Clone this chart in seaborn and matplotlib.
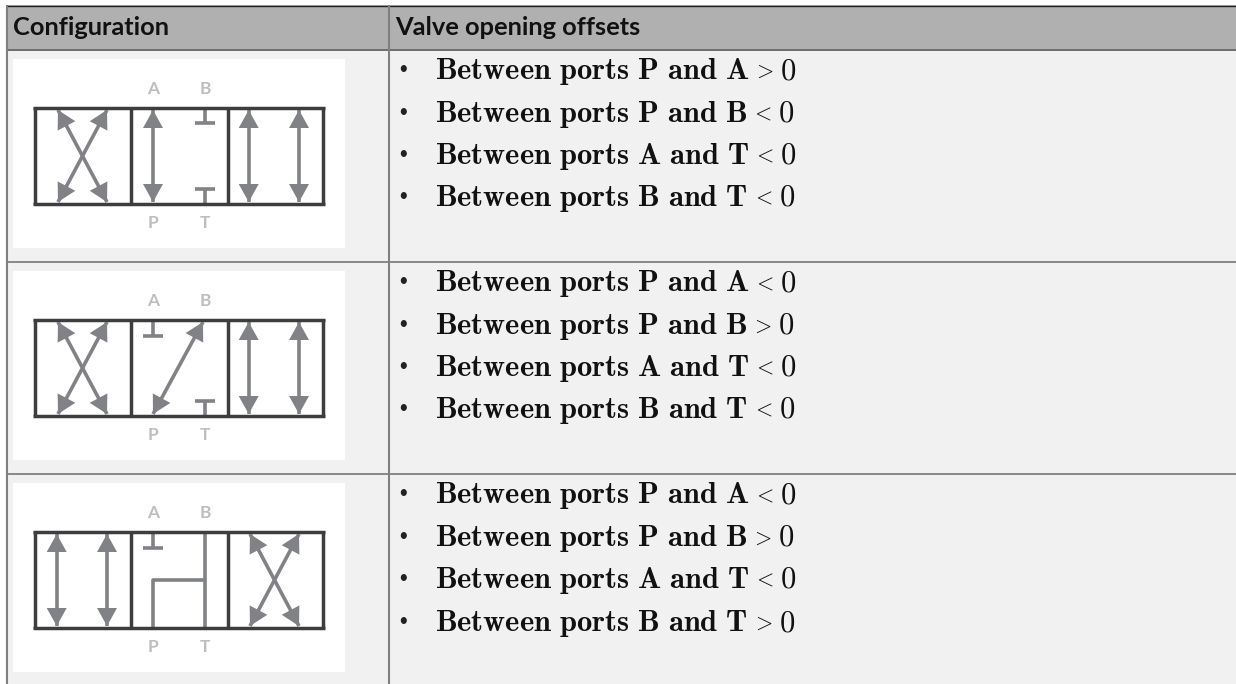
import numpy as np
import matplotlib
matplotlib.use('Agg')
import matplotlib.pyplot as plt
from matplotlib.patches import Polygon, Rectangle
import seaborn as sns

# table text
headers = ['Configuration', 'Valve opening offsets']
port_pairs = ['P\\ and\\ A', 'P\\ and\\ B', 'A\\ and\\ T', 'B\\ and\\ T']
row1_signs = ['>', '<', '<', '<']
row2_signs = ['<', '>', '<', '<']
row3_signs = ['<', '>', '<', '>']
row1_y = [79, 122, 164, 206]
row2_y = [291, 334, 376, 418]
row3_y = [503, 546, 588, 631]

# which symbol goes in the left / middle / right cell of each valve
row1_cells = ['cross', 'straight_blocked', 'parallel']
row2_cells = ['cross', 'diagonal_blocked', 'parallel']
row3_cells = ['parallel', 'tandem', 'cross']

BG = '#f1f1f1'
HEAD = '#b0b0b0'
RULE = '#808080'
DARK = '#3d3d3d'
ARROW = '#808285'
PORT = '#bdbec0'

sns.set_theme(style='white')
plt.rcParams['font.family'] = ['Lato', 'DejaVu Sans']
plt.rcParams['mathtext.fontset'] = 'cm'

fig = plt.figure(figsize=(12.36, 6.84), dpi=100)
ax = fig.add_axes([0, 0, 1, 1])
ax.set_xlim(0, 1236)
ax.set_ylim(684, 0)
ax.set_axis_off()
sns.despine(ax=ax, left=True, bottom=True)
renderer = fig.canvas.get_renderer()


def seg(xs, ys, color=ARROW, lw=2.6):
    sns.lineplot(x=xs, y=ys, ax=ax, color=color, linewidth=lw, sort=False,
                 estimator=None, legend=False, solid_capstyle='butt')


def head(tip, tail):
    tip = np.array(tip, float)
    d = np.array(tail, float) - tip
    d = d / np.hypot(*d)
    n = np.array([-d[1], d[0]])
    base = tip + d * 18
    ax.add_patch(Polygon([tip, base + n * 10, base - n * 10], closed=True,
                         facecolor=ARROW, edgecolor='none', zorder=3))


def arrow(a, b):
    seg([a[0], b[0]], [a[1], b[1]])
    head(a, b)
    head(b, a)


def stop(x, y0, y1):
    # blocked port, y0 at the box edge and y1 at the bar
    seg([x, x], [y0, y1])
    seg([x - 10, x + 10], [y1, y1])


def draw_cell(kind, x0, top, bot):
    # x0 = left edge of the cell
    if kind == 'cross':
        arrow((x0 + 24, top), (x0 + 73, bot))
        arrow((x0 + 73, top), (x0 + 24, bot))
    elif kind == 'parallel':
        arrow((x0 + 22.7, top), (x0 + 22.7, bot))
        arrow((x0 + 73, top), (x0 + 73, bot))
    elif kind == 'straight_blocked':
        arrow((x0 + 23, top), (x0 + 23, bot))
        stop(x0 + 75, top - 2, top + 13)
        stop(x0 + 75, bot + 2, bot - 13)
    elif kind == 'diagonal_blocked':
        stop(x0 + 23, top - 2, top + 14)
        arrow((x0 + 73, top), (x0 + 23, bot))
        stop(x0 + 75, bot + 2, bot - 13)
    elif kind == 'tandem':
        stop(x0 + 23, top - 2, top + 14)
        seg([x0 + 75, x0 + 75], [top - 2, bot + 2])
        seg([x0 + 23, x0 + 23, x0 + 75], [bot + 2, top + 46, top + 46])


def draw_valve(cells, y0):
    # y0 = top of the white picture
    ax.add_patch(Rectangle((13, y0), 332, 189, facecolor='white', edgecolor='none', zorder=1))
    top, bot = y0 + 51, y0 + 143
    for kind, x0 in zip(cells, [34, 130, 226]):
        draw_cell(kind, x0, top, bot)
    for x in [35, 131, 228, 323]:
        seg([x, x], [y0 + 48, y0 + 145], color=DARK, lw=2.5)
    for y in [y0 + 48.7, y0 + 144.5]:
        seg([33.2, 324.8], [y, y], color=DARK, lw=2.5)
    for s, x, y in [('A', 153, y0 + 30), ('B', 205, y0 + 30), ('P', 153, y0 + 164), ('T', 205, y0 + 164)]:
        ax.text(x, y, s, color=PORT, fontsize=12.5, fontweight='bold', ha='center', va='center', zorder=4)


# table frame
ax.add_patch(Rectangle((7, 5), 1229, 679, facecolor=BG, edgecolor='none', zorder=0))
ax.add_patch(Rectangle((7, 5), 1229, 44, facecolor=HEAD, edgecolor='none', zorder=0.5))
seg([7, 1236], [5.5, 5.5], color='#222222', lw=1.0)
seg([7, 1236], [49.5, 49.5], color='#555555', lw=1.2)
for y in [262, 474]:
    seg([7, 1236], [y, y], color=RULE, lw=1.3)
for x in [7, 389]:
    seg([x, x], [5, 684], color=RULE, lw=1.5)

ax.text(13, 35, headers[0], fontsize=18.3, fontweight='bold', color='#111111', va='baseline')
ax.text(395, 35, headers[1], fontsize=18.3, fontweight='bold', color='#111111', va='baseline')

for cells, y0 in zip([row1_cells, row2_cells, row3_cells], [59, 271, 483]):
    draw_valve(cells, y0)

for signs, ys in zip([row1_signs, row2_signs, row3_signs], [row1_y, row2_y, row3_y]):
    for pair, sign, y in zip(port_pairs, signs, ys):
        ax.text(403, y - 10, '\u2022', fontsize=12, color='#222222', ha='center', va='center')
        t = ax.text(435, y, r'$\mathbf{Between\ ports\ ' + pair + r'}$',
                    fontsize=22, color='#111111', va='baseline')
        end = ax.transData.inverted().transform(t.get_window_extent(renderer))[1, 0]
        ax.text(end + 4, y - 2, '$' + sign + '$', fontsize=16, color='#111111', va='baseline')
        ax.text(end + 31, y, '$0$', fontsize=22, color='#111111', va='baseline')

fig.savefig('out.png', dpi=100)
